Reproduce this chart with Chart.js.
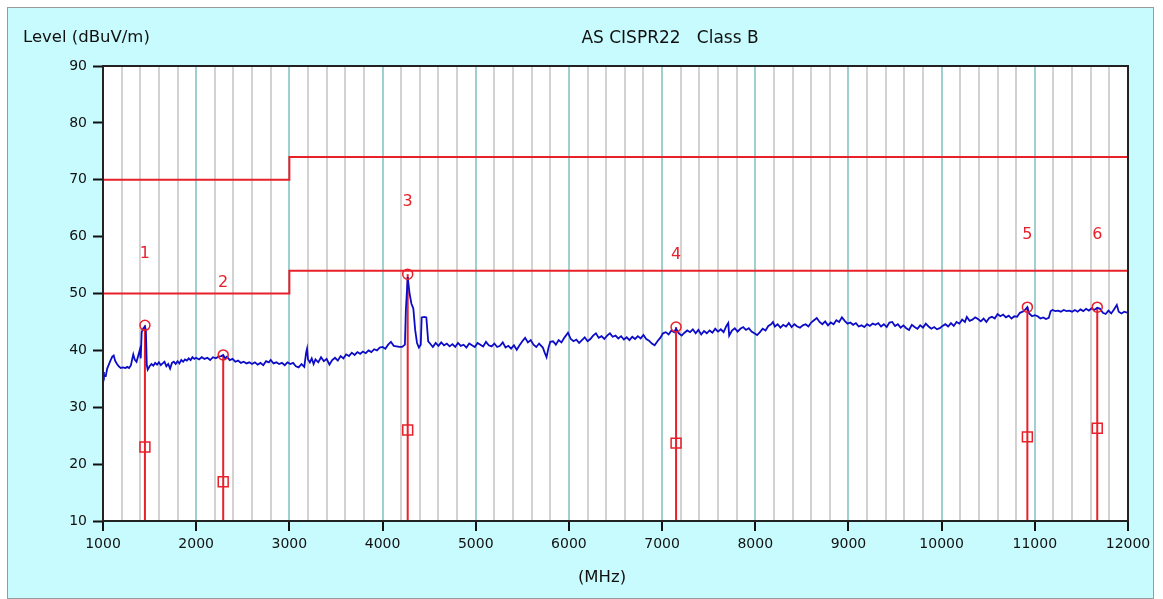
<!DOCTYPE html>
<html>
<head>
<meta charset="utf-8">
<title>AS CISPR22 Class B</title>
<script src="https://cdn.jsdelivr.net/npm/chart.js@4.4.0/dist/chart.umd.min.js"></script>
<style>
  html, body { margin: 0; padding: 0; background: #fff; }
  #wrap { width: 1163px; height: 599px; }
</style>
</head>
<body>
<div id="wrap"><canvas id="emcChart" width="1163" height="599"></canvas></div>
<script>
// Axis ticks
const freqTicks = [1000, 2000, 3000, 4000, 5000, 6000, 7000, 8000, 9000, 10000, 11000, 12000];
const levelTicks = [10, 20, 30, 40, 50, 60, 70, 80, 90];

// Limit lines (QP / AV), stepped at 3 GHz
const limitFreq = [1000, 3000, 12000];
const qpLimit = [70, 74, 74];
const avLimit = [50, 54, 54];

// Marked peaks
const markerNames = ['1', '2', '3', '4', '5', '6'];
const markerFreq = [1450, 2290, 4270, 7150, 10920, 11670];
const markerPeak = [44.4, 39.2, 53.4, 44.1, 47.6, 47.6];
const markerAvg = [23.0, 16.9, 26.0, 23.7, 24.8, 26.3];

const traceFreq = [
  1000, 1010, 1030, 1045, 1060, 1080, 1100, 1115, 1130, 1150, 1170, 1190, 1210, 1240, 1260, 1280,
  1300, 1315, 1325, 1340, 1360, 1380, 1395, 1405, 1415, 1430, 1450, 1460, 1470, 1480, 1500, 1520,
  1540, 1560, 1580, 1600, 1620, 1640, 1660, 1680, 1700, 1720, 1740, 1760, 1780, 1800, 1820, 1840,
  1860, 1880, 1900, 1920, 1940, 1960, 1980, 2000, 2030, 2060, 2090, 2120, 2150, 2180, 2210, 2240,
  2270, 2290, 2310, 2330, 2360, 2390, 2420, 2450, 2480, 2510, 2540, 2570, 2600, 2630, 2660, 2690,
  2720, 2750, 2780, 2800, 2830, 2860, 2890, 2920, 2950, 2980, 3010, 3040, 3070, 3100, 3130, 3160,
  3180, 3190, 3200, 3220, 3240, 3260, 3280, 3310, 3340, 3370, 3400, 3430, 3460, 3490, 3520, 3550,
  3580, 3610, 3640, 3670, 3700, 3730, 3760, 3790, 3820, 3850, 3880, 3910, 3940, 3970, 4000, 4030,
  4060, 4090, 4120, 4150, 4180, 4210, 4240, 4250, 4270, 4290, 4310, 4330, 4350, 4370, 4390, 4410,
  4420, 4450, 4470, 4490, 4510, 4540, 4570, 4600, 4630, 4660, 4690, 4720, 4750, 4780, 4810, 4840,
  4870, 4900, 4930, 4960, 4990, 5020, 5050, 5080, 5110, 5140, 5170, 5200, 5230, 5260, 5290, 5320,
  5350, 5380, 5410, 5440, 5470, 5500, 5530, 5560, 5590, 5620, 5650, 5680, 5720, 5740, 5760, 5780,
  5800, 5830, 5860, 5890, 5920, 5950, 5990, 6020, 6050, 6080, 6110, 6140, 6170, 6200, 6230, 6260,
  6290, 6320, 6350, 6380, 6410, 6440, 6470, 6500, 6530, 6560, 6590, 6620, 6650, 6680, 6710, 6740,
  6770, 6800, 6830, 6860, 6890, 6920, 6950, 6980, 7010, 7040, 7070, 7100, 7130, 7150, 7180, 7210,
  7240, 7270, 7300, 7330, 7360, 7390, 7420, 7450, 7480, 7510, 7540, 7570, 7600, 7630, 7660, 7690,
  7710, 7720, 7750, 7780, 7810, 7840, 7870, 7900, 7930, 7960, 7990, 8020, 8050, 8080, 8110, 8140,
  8170, 8190, 8210, 8240, 8270, 8300, 8330, 8360, 8390, 8420, 8450, 8480, 8510, 8540, 8570, 8600,
  8630, 8660, 8690, 8720, 8750, 8780, 8810, 8840, 8870, 8900, 8930, 8960, 8990, 9020, 9050, 9080,
  9110, 9140, 9170, 9200, 9230, 9260, 9290, 9320, 9350, 9380, 9410, 9440, 9470, 9500, 9530, 9560,
  9590, 9620, 9650, 9680, 9710, 9740, 9770, 9800, 9830, 9860, 9890, 9920, 9950, 9980, 10010, 10040,
  10070, 10100, 10130, 10160, 10190, 10220, 10250, 10270, 10300, 10330, 10360, 10390, 10420, 10450, 10480, 10510,
  10540, 10570, 10600, 10630, 10660, 10690, 10720, 10750, 10780, 10810, 10840, 10870, 10900, 10920, 10940, 10970,
  11000, 11030, 11060, 11090, 11120, 11150, 11170, 11190, 11220, 11250, 11280, 11310, 11340, 11370, 11400, 11430,
  11460, 11490, 11520, 11550, 11580, 11610, 11640, 11670, 11700, 11730, 11760, 11790, 11820, 11850, 11880, 11900,
  11930, 11960, 12000
];
const traceLevel = [
  36.2, 35.6, 35.5, 36.8, 37.4, 38.2, 38.9, 39.1, 38.2, 37.6, 37.2, 36.9, 37.0, 36.9, 37.1, 36.9,
  37.4, 38.6, 39.3, 38.4, 38.0, 39.2, 40.1, 38.6, 43.2, 43.8, 44.2, 43.6, 37.4, 36.6, 37.2, 37.6,
  37.3, 37.8, 37.5, 37.9, 37.4, 37.7, 38.0, 37.2, 37.6, 36.8, 37.8, 38.0, 37.6, 38.1, 37.7, 38.3,
  38.0, 38.4, 38.2, 38.6, 38.3, 38.8, 38.5, 38.7, 38.4, 38.8, 38.5, 38.7, 38.3, 38.8, 38.6, 38.9,
  39.0, 39.2, 38.6, 38.9, 38.3, 38.5, 38.0, 38.2, 37.8, 38.0, 37.7, 37.9, 37.6, 37.9, 37.5, 37.8,
  37.4, 38.1, 37.9, 38.3, 37.7, 37.9, 37.6, 37.8, 37.4, 37.9, 37.6, 37.8, 37.2, 37.0, 37.6, 37.1,
  39.6, 40.3, 38.4, 37.9, 38.6, 37.6, 38.4, 37.9, 38.8, 38.1, 38.5, 37.5, 38.3, 38.7, 38.2, 39.0,
  38.6, 39.3, 39.0, 39.6, 39.2, 39.7, 39.4, 39.8, 39.5, 40.0, 39.7, 40.2, 40.0, 40.5, 40.6, 40.3,
  41.0, 41.5, 40.8, 40.7, 40.6, 40.6, 41.0, 47.0, 52.9, 50.0, 48.2, 47.4, 43.6, 41.3, 40.5, 41.0,
  45.8, 45.9, 45.8, 41.6, 41.2, 40.6, 41.3, 40.8, 41.4, 40.9, 41.2, 40.7, 41.1, 40.6, 41.3, 40.8,
  41.0, 40.5, 41.2, 40.9, 40.6, 41.3, 41.0, 40.7, 41.5, 40.9, 40.7, 41.2, 40.6, 40.8, 41.4, 40.5,
  40.8, 40.3, 40.9, 40.1, 40.9, 41.6, 42.2, 41.4, 41.8, 41.0, 40.6, 41.2, 40.5, 39.6, 38.8, 40.4,
  41.5, 41.6, 41.0, 41.8, 41.4, 42.2, 43.1, 42.0, 41.6, 41.9, 41.3, 41.8, 42.3, 41.6, 42.0, 42.6,
  43.0, 42.2, 42.5, 42.0, 42.6, 43.0, 42.4, 42.6, 42.1, 42.5, 41.9, 42.3, 41.8, 42.4, 42.0, 42.5,
  42.1, 42.7, 42.0, 41.7, 41.2, 40.9, 41.6, 42.2, 43.0, 43.2, 42.8, 43.5, 43.2, 43.8, 43.0, 42.6,
  43.1, 43.5, 43.2, 43.7, 43.0, 43.6, 42.8, 43.4, 43.0, 43.5, 43.1, 43.8, 43.3, 43.7, 43.2, 44.3,
  44.8, 42.6, 43.5, 43.9, 43.3, 43.8, 44.1, 43.6, 43.9, 43.3, 43.0, 42.7, 43.2, 43.8, 43.5, 44.3,
  44.6, 45.0, 44.2, 44.6, 44.0, 44.5, 44.2, 44.8, 44.1, 44.6, 44.2, 44.0, 44.4, 44.6, 44.2, 44.9,
  45.3, 45.7, 45.0, 44.6, 45.1, 44.4, 44.9, 44.6, 45.3, 45.0, 45.8, 45.2, 44.7, 44.9, 44.5, 44.8,
  44.2, 44.4, 44.1, 44.6, 44.3, 44.7, 44.5, 44.8, 44.2, 44.6, 44.1, 44.9, 45.0, 44.3, 44.6, 44.0,
  44.4, 43.9, 43.6, 44.5, 44.1, 43.8, 44.4, 44.0, 44.7, 44.2, 43.8, 44.1, 43.7, 43.9, 44.3, 44.6,
  44.2, 44.8, 44.3, 45.0, 44.7, 45.4, 45.0, 45.9, 45.2, 45.4, 45.8, 45.5, 45.1, 45.6, 45.0, 45.7,
  45.9, 45.6, 46.4, 46.0, 46.3, 45.8, 46.1, 45.6, 46.0, 45.9, 46.6, 46.8, 47.2, 47.6, 46.5, 46.0,
  46.2, 46.0, 45.6, 45.8, 45.5, 45.7, 46.9, 47.1, 46.9, 47.0, 46.8, 47.1, 46.9, 47.0, 46.8, 47.1,
  46.8, 47.2, 46.9, 47.3, 47.0, 47.4, 47.1, 47.5, 47.3, 46.6, 46.4, 47.0, 46.5, 47.2, 48.0, 46.8,
  46.5, 46.8, 46.6
];

const RED = '#e8202a';
const BLUE = '#0c0cc8';
const PANEL = '#c8fbfd';
const FONT = 'DejaVu Sans, Verdana, sans-serif';

// Paints the outer panel and the white plot area
const panelPlugin = {
    id: 'panel',
    beforeDraw(chart) {
        const ctx = chart.ctx;
        const a = chart.chartArea;
        ctx.save();
        ctx.fillStyle = '#ffffff';
        ctx.fillRect(0, 0, chart.width, chart.height);
        ctx.fillStyle = PANEL;
        ctx.fillRect(7, 7, 1146, 591);
        ctx.strokeStyle = '#9a9a9a';
        ctx.lineWidth = 1;
        ctx.strokeRect(7.5, 7.5, 1146, 591);
        ctx.fillStyle = '#ffffff';
        ctx.fillRect(a.left, a.top, a.right - a.left, a.bottom - a.top);
        ctx.restore();
    },
    afterDraw(chart) {
        const ctx = chart.ctx;
        const a = chart.chartArea;
        ctx.save();
        ctx.strokeStyle = '#222';
        ctx.lineWidth = 2;
        ctx.strokeRect(a.left, a.top, a.right - a.left, a.bottom - a.top);

        // titles
        ctx.fillStyle = '#111';
        ctx.textBaseline = 'alphabetic';
        ctx.font = '16.5px ' + FONT;
        ctx.textAlign = 'left';
        ctx.fillText('Level (dBuV/m)', 23, 42);
        ctx.font = '17px ' + FONT;
        ctx.textAlign = 'center';
        ctx.fillText('AS CISPR22   Class B', 670, 43);
        ctx.font = '16.5px ' + FONT;
        ctx.fillText('(MHz)', 602, 582);
        ctx.restore();
    }
};

// Draws the marker numbers above each peak
const markerLabelPlugin = {
    id: 'markerLabels',
    afterDatasetsDraw(chart) {
        const ctx = chart.ctx;
        const xs = chart.scales.x;
        const ys = chart.scales.y;
        ctx.save();
        ctx.fillStyle = RED;
        ctx.font = '16px ' + FONT;
        ctx.textAlign = 'center';
        ctx.textBaseline = 'middle';
        markerNames.forEach((name, i) => {
            const px = xs.getPixelForValue(markerFreq[i]);
            const py = ys.getPixelForValue(markerPeak[i]) - 72;
            ctx.fillText(name, px, py);
        });
        ctx.restore();
    }
};

function initializeChart() {
    const canvasElem = document.getElementById('emcChart');
    if (typeof Chart === 'undefined' || !canvasElem) {
        console.error('Chart.js or canvas missing');
        return;
    }

    const trace = traceFreq.map((f, i) => ({ x: f, y: traceLevel[i] }));
    const stems = markerFreq.map((f, i) => ({
        type: 'line',
        data: [{ x: f, y: levelTicks[0] }, { x: f, y: markerPeak[i] }],
        borderColor: RED,
        borderWidth: 2,
        pointRadius: 0,
        order: 3
    }));

    new Chart(canvasElem, {
        type: 'line',
        data: {
            datasets: [
                {
                    label: 'Peak',
                    type: 'scatter',
                    data: markerFreq.map((f, i) => ({ x: f, y: markerPeak[i] })),
                    pointStyle: 'circle',
                    pointRadius: 5,
                    borderColor: RED,
                    borderWidth: 1.5,
                    backgroundColor: 'rgba(0,0,0,0)',
                    order: 0
                },
                {
                    label: 'Average',
                    type: 'scatter',
                    data: markerFreq.map((f, i) => ({ x: f, y: markerAvg[i] })),
                    pointStyle: 'rect',
                    pointRadius: 7,
                    borderColor: RED,
                    borderWidth: 1.5,
                    backgroundColor: 'rgba(0,0,0,0)',
                    order: 0
                },
                {
                    label: 'Trace',
                    data: trace,
                    borderColor: BLUE,
                    borderWidth: 1.8,
                    pointRadius: 0,
                    tension: 0,
                    order: 1
                },
                {
                    label: 'QP limit',
                    data: limitFreq.map((f, i) => ({ x: f, y: qpLimit[i] })),
                    stepped: 'before',
                    borderColor: RED,
                    borderWidth: 2,
                    pointRadius: 0,
                    order: 4
                },
                {
                    label: 'AV limit',
                    data: limitFreq.map((f, i) => ({ x: f, y: avLimit[i] })),
                    stepped: 'before',
                    borderColor: RED,
                    borderWidth: 2,
                    pointRadius: 0,
                    order: 4
                }
            ].concat(stems)
        },
        options: {
            responsive: false,
            animation: false,
            devicePixelRatio: 1,
            layout: { padding: { left: 43, top: 66, right: 35, bottom: 38 } },
            plugins: {
                legend: { display: false },
                tooltip: { enabled: false },
                title: { display: false }
            },
            scales: {
                x: {
                    type: 'linear',
                    min: freqTicks[0],
                    max: freqTicks[freqTicks.length - 1],
                    ticks: {
                        stepSize: 200,
                        autoSkip: false,
                        maxRotation: 0,
                        padding: 5,
                        color: '#111',
                        font: { family: FONT, size: 14 },
                        callback: v => freqTicks.includes(v) ? String(v) : ''
                    },
                    grid: {
                        color: c => (c.tick && c.tick.value % 1000 === 0) ? '#9fcfcf' : '#d2d2d2',
                        lineWidth: 2,
                        drawTicks: true,
                        tickLength: 10,
                        tickWidth: 2,
                        tickColor: c => (c.tick && c.tick.value % 1000 === 0) ? '#111' : 'rgba(0,0,0,0)'
                    },
                    border: { display: false },
                    afterFit: s => { s.height = 40; }
                },
                y: {
                    type: 'linear',
                    min: levelTicks[0],
                    max: levelTicks[levelTicks.length - 1],
                    ticks: {
                        stepSize: 10,
                        padding: 6,
                        color: '#111',
                        font: { family: FONT, size: 14 },
                        callback: v => levelTicks.includes(v) ? String(v) : ''
                    },
                    grid: {
                        drawOnChartArea: false,
                        drawTicks: true,
                        tickLength: 10,
                        tickWidth: 2,
                        tickColor: '#111'
                    },
                    border: { display: false },
                    afterFit: s => { s.width = 60; }
                }
            }
        },
        plugins: [panelPlugin, markerLabelPlugin]
    });
}

initializeChart();
</script>
</body>
</html>
